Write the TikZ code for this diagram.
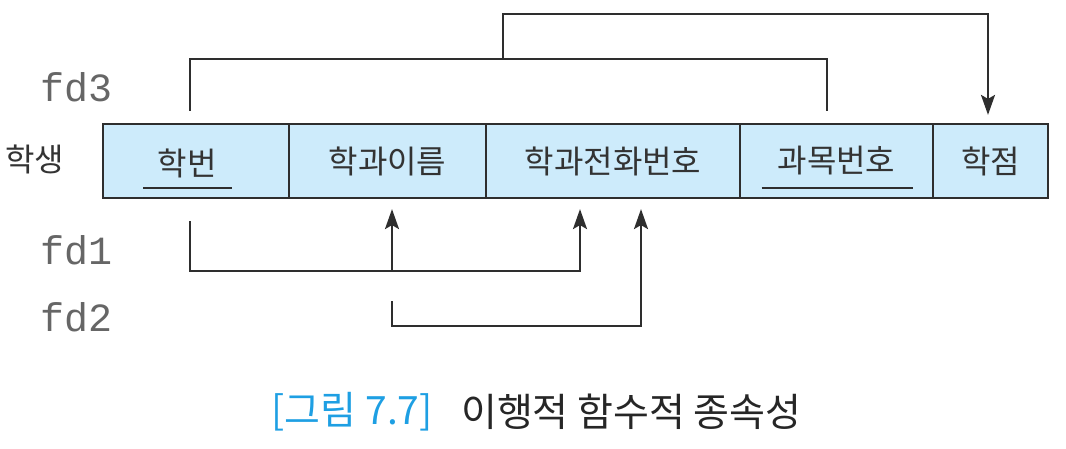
\documentclass[tikz,border=0pt]{standalone}
\usepackage{fontspec}
\newfontfamily\kr{Noto Sans CJK KR}
\newfontfamily\mono{Liberation Mono}
\usetikzlibrary{arrows.meta}
\definecolor{cellfill}{HTML}{CDEBFB}
\definecolor{linec}{HTML}{2E2E2E}
\definecolor{capblue}{HTML}{1E9FE3}
\definecolor{txt}{HTML}{333333}
\definecolor{lblc}{HTML}{666666}
\begin{document}
\begin{tikzpicture}[x=1pt,y=-1pt,
  cell/.style={draw=linec, line width=2.2pt, fill=cellfill, minimum height=74pt, inner sep=0pt,
    font=\kr\fontsize{32}{35}\selectfont, text=txt},
  celltext/.style={inner sep=0pt, font=\kr\fontsize{32}{35}\selectfont, text=txt},
  conn/.style={draw=linec, line width=2.1pt},
  arr/.style={conn, -{Stealth[length=20pt,width=14pt,inset=4pt]}},
  uline/.style={draw=linec, line width=2.2pt},
  lbl/.style={font=\mono\fontsize{40}{44}\selectfont, text=lblc, anchor=west, inner sep=0pt},
  caption/.style={inner sep=0pt, font=\kr\fontsize{39}{42}\selectfont}]
\useasboundingbox (0,0) rectangle (1066,449);

% relation cells
\node[cell, minimum width=186pt] (c1) at (196,161) {};
\node[cell, minimum width=197pt] (c2) at (387.5,161) {학과이름};
\node[cell, minimum width=254pt] (c3) at (613,161) {학과전화번호};
\node[cell, minimum width=193pt] (c4) at (836.5,161) {과목번호};
\node[cell, minimum width=115pt] (c5) at (990.5,161) {학점};
\node[celltext] (t1) at (187,163) {학번};

% key underlines
\draw[uline] ([xshift=-53pt,yshift=-27pt]c1.center) -- ([xshift=36pt,yshift=-27pt]c1.center);
\draw[uline] ([xshift=-75pt,yshift=-27pt]c4.center) -- ([xshift=76pt,yshift=-27pt]c4.center);

% labels
\node[anchor=west, inner sep=0pt, font=\kr\fontsize{32}{35}\selectfont, text=txt] (rel) at (5,159) {학생};
\node[lbl] (fd3) at (40,87) {fd3};
\node[lbl] (fd1) at (40,250) {fd1};
\node[lbl] (fd2) at (40,317) {fd2};

% levels
\coordinate (L3) at (0,59);
\coordinate (L3t) at (0,14);
\coordinate (L1) at (0,271);
\coordinate (L2) at (0,326);

% fd3
\coordinate (s3a) at ([xshift=-6pt,yshift=12pt]c1.north);
\coordinate (s3b) at ([xshift=-9.5pt,yshift=12pt]c4.north);
\coordinate (j3) at (503,59);
\coordinate (t3) at ([xshift=-2.5pt,yshift=8pt]c5.north);
\draw[conn] (s3a) |- (s3b |- L3) -- (s3b);
\draw[arr] (j3) |- (t3 |- L3t) -- (t3);

% fd1
\coordinate (s1) at ([xshift=-6pt,yshift=-22pt]c1.south);
\coordinate (t1a) at ([xshift=4.5pt,yshift=-10pt]c2.south);
\coordinate (t1b) at ([xshift=-33pt,yshift=-10pt]c3.south);
\draw[arr] (s1) |- (t1b |- L1) -- (t1b);
\draw[arr] (t1a |- L1) -- (t1a);

% fd2
\coordinate (s2) at ([xshift=4.5pt,yshift=-102pt]c2.south);
\coordinate (t2) at ([xshift=28pt,yshift=-10pt]c3.south);
\draw[arr] (s2) |- (t2 |- L2) -- (t2);

% caption
\node[caption, anchor=east, text=capblue] (capnum) at (433,412) {[그림 7.7]};
\node[caption, anchor=west, text=black!85] (captxt) at (461,412) {이행적 함수적 종속성};
\end{tikzpicture}
\end{document}
